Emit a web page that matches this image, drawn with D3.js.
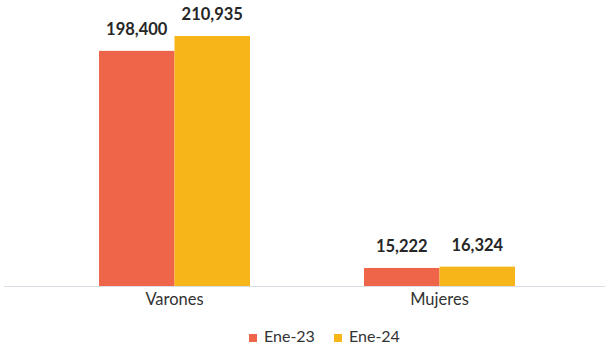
<!DOCTYPE html>
<html>
<head>
<meta charset="utf-8">
<script src="https://cdn.jsdelivr.net/npm/d3@7"></script>
<style>
  html, body { margin: 0; padding: 0; background: #fff; }
  svg { display: block; font-family: Lato, "Open Sans", "Liberation Sans", sans-serif; }
</style>
</head>
<body>
<svg id="chart" width="605" height="349"></svg>
<script>
const categories = ["Varones", "Mujeres"];
const seriesNames = ["Ene-23", "Ene-24"];
const ene23 = [198400, 15222];
const ene24 = [210935, 16324];
const colors = ["#EE6549", "#F8B51A"];

const svg = d3.select("#chart");
const baseY = 286;
const groupW = 151;

const x0 = d3.scaleBand().domain(categories).range([42, 572]);
const x1 = d3.scaleBand().domain(seriesNames).range([0, groupW]);
const y = d3.scaleLinear().domain([0, 210935]).range([baseY, 36]);

const values = [ene23, ene24];
const fmt = d3.format(",");

// grouped bars with value labels
categories.forEach((cat, ci) => {
  const gx = x0(cat) + (x0.bandwidth() - groupW) / 2;
  seriesNames.forEach((s, si) => {
    const v = values[si][ci];
    svg.append("rect")
      .attr("x", gx + x1(s))
      .attr("y", y(v))
      .attr("width", x1.bandwidth())
      .attr("height", baseY - y(v))
      .attr("fill", colors[si]);
    svg.append("text")
      .attr("x", gx + x1(s) + x1.bandwidth() / 2)
      .attr("y", y(v) - 16)
      .attr("text-anchor", "middle")
      .attr("font-size", 16.5)
      .attr("font-weight", "bold")
      .attr("fill", "#262626")
      .text(fmt(v));
  });
});

// category axis
svg.append("line")
  .attr("x1", 4).attr("x2", 605)
  .attr("y1", baseY + 0.5).attr("y2", baseY + 0.5)
  .attr("stroke", "#D9DDE3").attr("stroke-width", 1);

categories.forEach(cat => {
  svg.append("text")
    .attr("x", x0(cat) + x0.bandwidth() / 2)
    .attr("y", 305)
    .attr("text-anchor", "middle")
    .attr("font-size", 16.5)
    .attr("fill", "#333")
    .text(cat);
});

// legend
const legendX = [249, 334];
seriesNames.forEach((s, i) => {
  svg.append("rect")
    .attr("x", legendX[i]).attr("y", 334)
    .attr("width", 8).attr("height", 8)
    .attr("fill", colors[i]);
  svg.append("text")
    .attr("x", legendX[i] + 15).attr("y", 342)
    .attr("font-size", 16)
    .attr("fill", "#333")
    .text(s);
});
</script>
</body>
</html>
